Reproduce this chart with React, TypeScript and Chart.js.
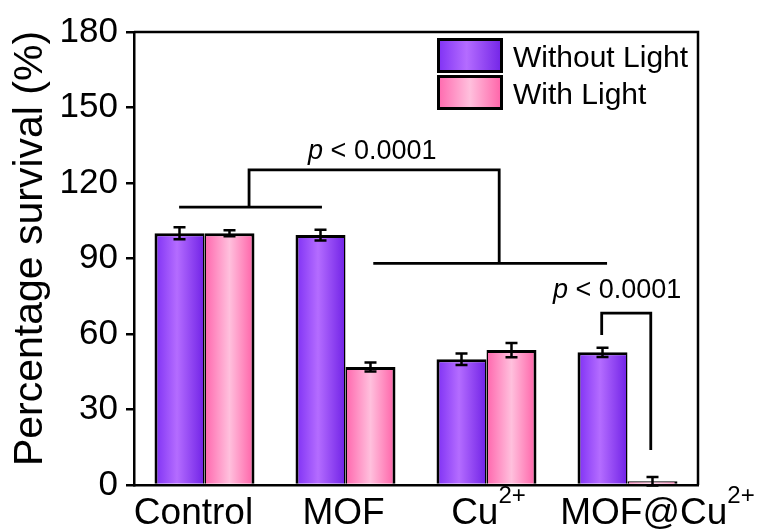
import React, { useEffect, useRef } from 'react';
import { Chart, registerables } from 'chart.js';

Chart.register(...registerables);

const FONT = '"Liberation Sans", Arial, sans-serif';

// ---- data ----
const categories = ['Control', 'MOF', 'Cu²⁺', 'MOF@Cu²⁺'];
const seriesLabels = ['Without Light', 'With Light'];
const withoutLight = [100, 99.3, 50, 52.7];
const withoutLightErr = [2.4, 2.1, 2.3, 1.8];
const withLight = [100, 46.9, 53.6, 1.5];
const withLightErr = [1.2, 1.8, 2.8, 1.7];
const yTicks = [0, 30, 60, 90, 120, 150, 180];
const yTitle = 'Percentage survival (%)';
const pText = ['p', ' < 0.0001'];

// significance brackets, in [category index, value] units
const bracketPaths: number[][][] = [
  [[-0.18, 110.4], [0.833, 110.4]],
  [[0.316, 110.4], [0.316, 125.2], [2.09, 125.2], [2.09, 88.1]],
  [[1.197, 88.1], [2.855, 88.1]],
  [[2.817, 59.6], [2.817, 68.3], [3.165, 68.3], [3.165, 13.9]],
];
const pTextPositions: number[][] = [
  [1.19, 129.5],
  [2.926, 74.3],
];

// ---- styles ----
const GRADIENTS: [number, string][][] = [
  [[0, '#7e30f4'], [0.45, '#b46cff'], [1, '#7022e6']],
  [[0, '#ff66ad'], [0.5, '#ffc0dd'], [1, '#ff5fa6']],
];
const labelDx = [-11, -2, 2, 30];

function drawSupText(ctx: CanvasRenderingContext2D, text: string, cx: number, baseline: number, size: number) {
  const supMap: Record<string, string> = { '²': '2', '⁺': '+' };
  const parts: { t: string; sup: boolean }[] = [];
  for (const ch of text) {
    const sup = ch in supMap;
    const t = sup ? supMap[ch] : ch;
    const last = parts[parts.length - 1];
    if (last && last.sup === sup) last.t += t;
    else parts.push({ t, sup });
  }
  const supSize = size * 0.65;
  const widths = parts.map((p) => {
    ctx.font = `${p.sup ? supSize : size}px ${FONT}`;
    return ctx.measureText(p.t).width;
  });
  const total = widths.reduce((a, b) => a + b, 0);
  let x = cx - total / 2;
  ctx.textAlign = 'left';
  ctx.textBaseline = 'alphabetic';
  parts.forEach((p, i) => {
    ctx.font = `${p.sup ? supSize : size}px ${FONT}`;
    ctx.fillText(p.t, x, p.sup ? baseline - size * 0.57 : baseline);
    x += widths[i];
  });
}

function drawPText(ctx: CanvasRenderingContext2D, cx: number, baseline: number) {
  const size = 27;
  ctx.font = `italic ${size}px ${FONT}`;
  const w1 = ctx.measureText(pText[0]).width;
  ctx.font = `${size}px ${FONT}`;
  const w2 = ctx.measureText(pText[1]).width;
  let x = cx - (w1 + w2) / 2;
  ctx.textAlign = 'left';
  ctx.textBaseline = 'alphabetic';
  ctx.font = `italic ${size}px ${FONT}`;
  ctx.fillText(pText[0], x, baseline);
  x += w1;
  ctx.font = `${size}px ${FONT}`;
  ctx.fillText(pText[1], x, baseline);
}

const gradientPlugin = {
  id: 'barGradient',
  beforeDatasetsDraw(chart: any) {
    const ctx = chart.ctx as CanvasRenderingContext2D;
    chart.data.datasets.forEach((_ds: any, di: number) => {
      const meta = chart.getDatasetMeta(di);
      meta.data.forEach((el: any) => {
        const { x, width } = el.getProps(['x', 'width'], true);
        const g = ctx.createLinearGradient(x - width / 2, 0, x + width / 2, 0);
        GRADIENTS[di].forEach(([o, c]) => g.addColorStop(o, c));
        el.options = { ...el.options, backgroundColor: g };
      });
    });
  },
};

const overlayPlugin = {
  id: 'overlay',
  afterDatasetsDraw(chart: any) {
    const ctx = chart.ctx as CanvasRenderingContext2D;
    const yS = chart.scales.y;
    const vals = [withoutLight, withLight];
    const errs = [withoutLightErr, withLightErr];
    ctx.save();
    ctx.strokeStyle = '#000';
    ctx.lineWidth = 2.5;
    vals.forEach((arr, di) => {
      const meta = chart.getDatasetMeta(di);
      arr.forEach((v, i) => {
        const x = meta.data[i].x;
        const yt = yS.getPixelForValue(v + errs[di][i]);
        const yb = yS.getPixelForValue(v - errs[di][i]);
        ctx.beginPath();
        ctx.moveTo(x, yt);
        ctx.lineTo(x, yb);
        ctx.moveTo(x - 6, yt);
        ctx.lineTo(x + 6, yt);
        ctx.moveTo(x - 6, yb);
        ctx.lineTo(x + 6, yb);
        ctx.stroke();
      });
    });
    ctx.restore();
  },
  afterDraw(chart: any) {
    const ctx = chart.ctx as CanvasRenderingContext2D;
    const xS = chart.scales.x;
    const yS = chart.scales.y;
    const area = chart.chartArea;
    ctx.save();
    // top & right frame
    ctx.strokeStyle = '#000';
    ctx.lineWidth = 2.5;
    ctx.beginPath();
    ctx.moveTo(area.left, area.top);
    ctx.lineTo(area.right, area.top);
    ctx.lineTo(area.right, area.bottom);
    ctx.stroke();

    // brackets
    ctx.lineWidth = 2.8;
    ctx.lineJoin = 'miter';
    bracketPaths.forEach((path) => {
      ctx.beginPath();
      path.forEach(([cx, v], i) => {
        const px = xS.getPixelForValue(cx);
        const py = yS.getPixelForValue(v);
        if (i === 0) ctx.moveTo(px, py);
        else ctx.lineTo(px, py);
      });
      ctx.stroke();
    });

    ctx.fillStyle = '#000';
    pTextPositions.forEach(([cx, v]) => {
      drawPText(ctx, xS.getPixelForValue(cx), yS.getPixelForValue(v));
    });

    // x category labels
    categories.forEach((lab, i) => {
      drawSupText(ctx, lab, xS.getPixelForValue(i) + labelDx[i], area.bottom + 39, 37);
    });

    // y title
    ctx.save();
    ctx.translate(42, (area.top + area.bottom) / 2 - 10);
    ctx.rotate(-Math.PI / 2);
    ctx.font = `41px ${FONT}`;
    ctx.textAlign = 'center';
    ctx.textBaseline = 'alphabetic';
    ctx.fillText(yTitle, 0, 0);
    ctx.restore();

    // legend
    const lx = 437;
    const ly = 38;
    const bw = 66;
    const bh = 35;
    seriesLabels.forEach((lab, i) => {
      const top = ly + i * 37;
      const g = ctx.createLinearGradient(lx, 0, lx + bw, 0);
      GRADIENTS[i].forEach(([o, c]) => g.addColorStop(o, c));
      ctx.fillStyle = g;
      ctx.fillRect(lx, top, bw, bh);
      ctx.strokeStyle = '#000';
      ctx.lineWidth = 3;
      ctx.strokeRect(lx + 1.5, top + 1.5, bw - 3, bh - 3);
      ctx.fillStyle = '#000';
      ctx.font = `30px ${FONT}`;
      ctx.textAlign = 'left';
      ctx.textBaseline = 'alphabetic';
      ctx.fillText(lab, 513, top + 29);
    });
    ctx.restore();
  },
};

export default function App() {
  const ref = useRef<HTMLCanvasElement>(null);
  useEffect(() => {
    const canvas = ref.current;
    if (!canvas) return;
    const chart = new Chart(canvas, {
      type: 'bar',
      data: {
        labels: categories,
        datasets: [
          {
            label: seriesLabels[0],
            data: withoutLight,
            backgroundColor: '#9a4dff',
            borderColor: '#000',
            borderWidth: { top: 3, left: 3, right: 1.5, bottom: 0 },
            borderSkipped: false,
          },
          {
            label: seriesLabels[1],
            data: withLight,
            backgroundColor: '#ff8fc4',
            borderColor: '#000',
            borderWidth: { top: 3, left: 1.5, right: 3, bottom: 0 },
            borderSkipped: false,
          },
        ],
      },
      options: {
        animation: false,
        responsive: true,
        maintainAspectRatio: false,
        layout: { padding: { left: 0, top: 32, right: 63, bottom: 0 } },
        datasets: { bar: { categoryPercentage: 0.709, barPercentage: 1 } },
        plugins: { legend: { display: false }, tooltip: { enabled: false } },
        scales: {
          x: {
            grid: { display: false },
            border: { display: true, color: '#000', width: 2.5 },
            ticks: { display: false },
            afterFit: (s: any) => {
              s.height = 47;
            },
          },
          y: {
            min: 0,
            max: 180,
            afterBuildTicks: (s: any) => {
              s.ticks = yTicks.map((v) => ({ value: v }));
            },
            grid: { drawOnChartArea: false, drawTicks: true, tickLength: 8, color: '#000', lineWidth: 2.5 },
            border: { display: true, color: '#000', width: 2.5 },
            ticks: { color: '#000', font: { family: FONT, size: 35 }, padding: 8 },
            afterFit: (s: any) => {
              s.width = 134;
            },
          },
        },
      } as any,
      plugins: [gradientPlugin, overlayPlugin],
    });
    return () => chart.destroy();
  }, []);
  return (
    <div style={{ position: 'fixed', left: 0, top: 0, width: 761, height: 532, background: '#fff' }}>
      <canvas ref={ref} />
    </div>
  );
}
